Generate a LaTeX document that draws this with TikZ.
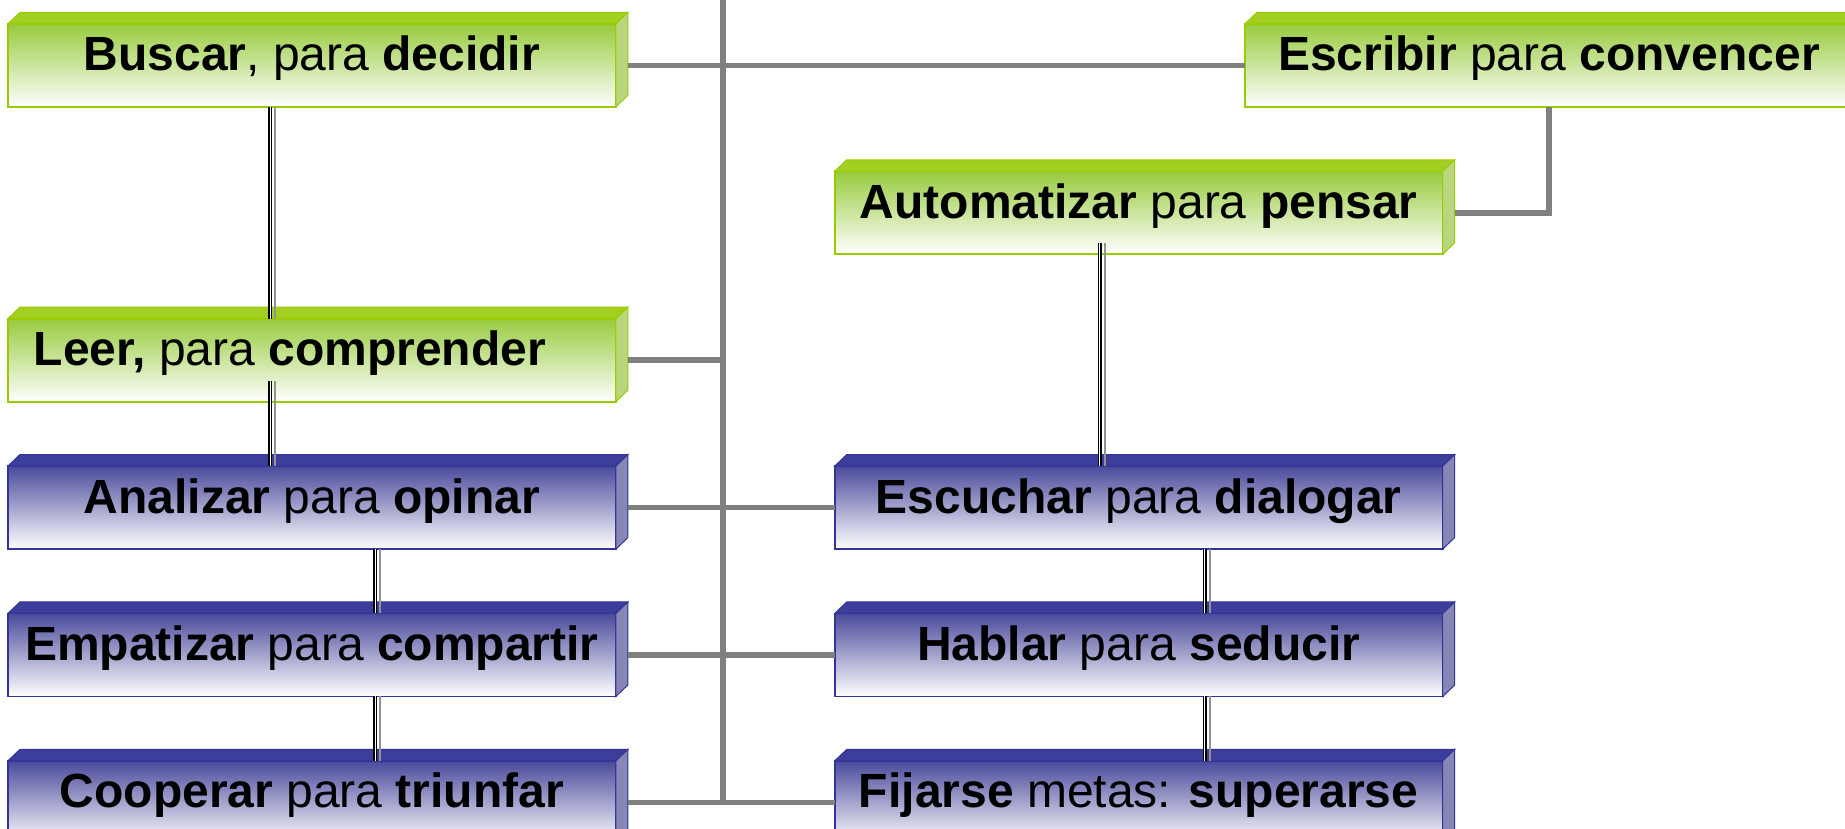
\documentclass[tikz,border=0pt]{standalone}
\usepackage{fontspec}
\setmainfont{Liberation Sans}
\usetikzlibrary{positioning}

\definecolor{linegreen}{HTML}{99CC00}
\definecolor{topgreen}{HTML}{A2CF22}
\definecolor{sidegreen}{HTML}{B9D67E}
\definecolor{facegreen}{HTML}{98CB3E}
\definecolor{lineblue}{HTML}{333399}
\definecolor{topblue}{HTML}{3D3D9B}
\definecolor{sideblue}{HTML}{8787B6}
\definecolor{faceblue}{HTML}{4A4A9C}
\definecolor{connector}{HTML}{808080}

\tikzset{
  box/.style={shape=rectangle, draw, line width=1.8pt, minimum width=608pt,
    inner xsep=0pt, inner ysep=0pt, outer sep=0pt,
    text height=47pt, text depth=36pt, font=\fontsize{48}{52}\selectfont},
  greenbox/.style={box, draw=linegreen, top color=facegreen, bottom color=white},
  bluebox/.style={box, draw=lineblue, top color=faceblue, bottom color=white},
  conn/.style={draw=connector, line width=5.5pt},
  link/.style={draw=black, line width=1.7pt, double=white, double distance=0.8pt},
  linkshade/.style={draw=gray!85, line width=2pt},
}

\begin{document}
\begin{tikzpicture}[x=1pt,y=1pt]
  \useasboundingbox (0,0) rectangle (1845,829);
  \matrix [anchor=north west, inner sep=0pt, outer sep=0pt,
           column sep=217pt, row sep=62.6pt] at (7,806) {
    \node[greenbox] (buscar) {\textbf{Buscar}, para \textbf{decidir}}; & \\
    & \node[greenbox] (automatizar) {\textbf{Automatizar} para \textbf{pensar}}; \\
    \node[greenbox] (leer) {\textbf{Leer,} para \textbf{comprender}\hspace*{44pt}}; & \\
    \node[bluebox] (analizar) {\textbf{Analizar} para \textbf{opinar}};
    & \node[bluebox] (escuchar) {\textbf{Escuchar} para \textbf{dialogar}}; \\
    \node[bluebox] (empatizar) {\textbf{Empatizar} para \textbf{compartir}};
    & \node[bluebox] (hablar) {\textbf{Hablar} para \textbf{seducir}}; \\
    \node[bluebox] (cooperar) {\textbf{Cooperar} para \textbf{triunfar}};
    & \node[bluebox] (fijarse) {\textbf{Fijarse} metas: \textbf{superarse}}; \\
  };
  \node[greenbox, right=629pt of buscar] (escribir) {\textbf{Escribir} para \textbf{convencer}};

  % top and side faces
  \foreach \n/\c in {buscar/green, escribir/green, automatizar/green, leer/green,
                     analizar/blue, escuchar/blue, empatizar/blue, hablar/blue,
                     cooperar/blue, fijarse/blue} {
    \filldraw[fill=top\c, draw=line\c, line width=1pt] (\n.north west) -- ++(12,11.5)
      -- ([shift={(12,11.5)}]\n.north east) -- (\n.north east) -- cycle;
    \filldraw[fill=side\c, draw=line\c, line width=1pt] (\n.north east) -- ++(12,11.5)
      -- ([shift={(12,11.5)}]\n.south east) -- (\n.south east) -- cycle;
  }

  % links between boxes of one column
  \foreach \a/\b/\dx/\up in {buscar/leer/-42/0, leer/analizar/-42/21,
      analizar/empatizar/63/0, empatizar/cooperar/63/0,
      automatizar/escuchar/-39/11, escuchar/hablar/66/0, hablar/fijarse/66/0} {
    \draw[linkshade] ([xshift={\dx+5}, yshift=\up]\a.south) -- ([xshift={\dx+5}]\b.north);
    \draw[link] ([xshift=\dx, yshift=\up]\a.south) -- ([xshift=\dx]\b.north);
  }

  % trunk and branches
  \coordinate (trunk) at (723,829);
  \draw[conn] (trunk) -- (trunk |- cooperar.east);
  \draw[conn] ([xshift=12pt]buscar.east) -- (escribir.west);
  \draw[conn] ([xshift=12pt]leer.east) -- (trunk |- leer.east);
  \draw[conn] ([xshift=12pt]analizar.east) -- (escuchar.west);
  \draw[conn] ([xshift=12pt]empatizar.east) -- (hablar.west);
  \draw[conn] ([xshift=12pt]cooperar.east) -- (fijarse.west);
  \draw[conn] (escribir.south) |- ([xshift=12pt]automatizar.east);
\end{tikzpicture}
\end{document}
